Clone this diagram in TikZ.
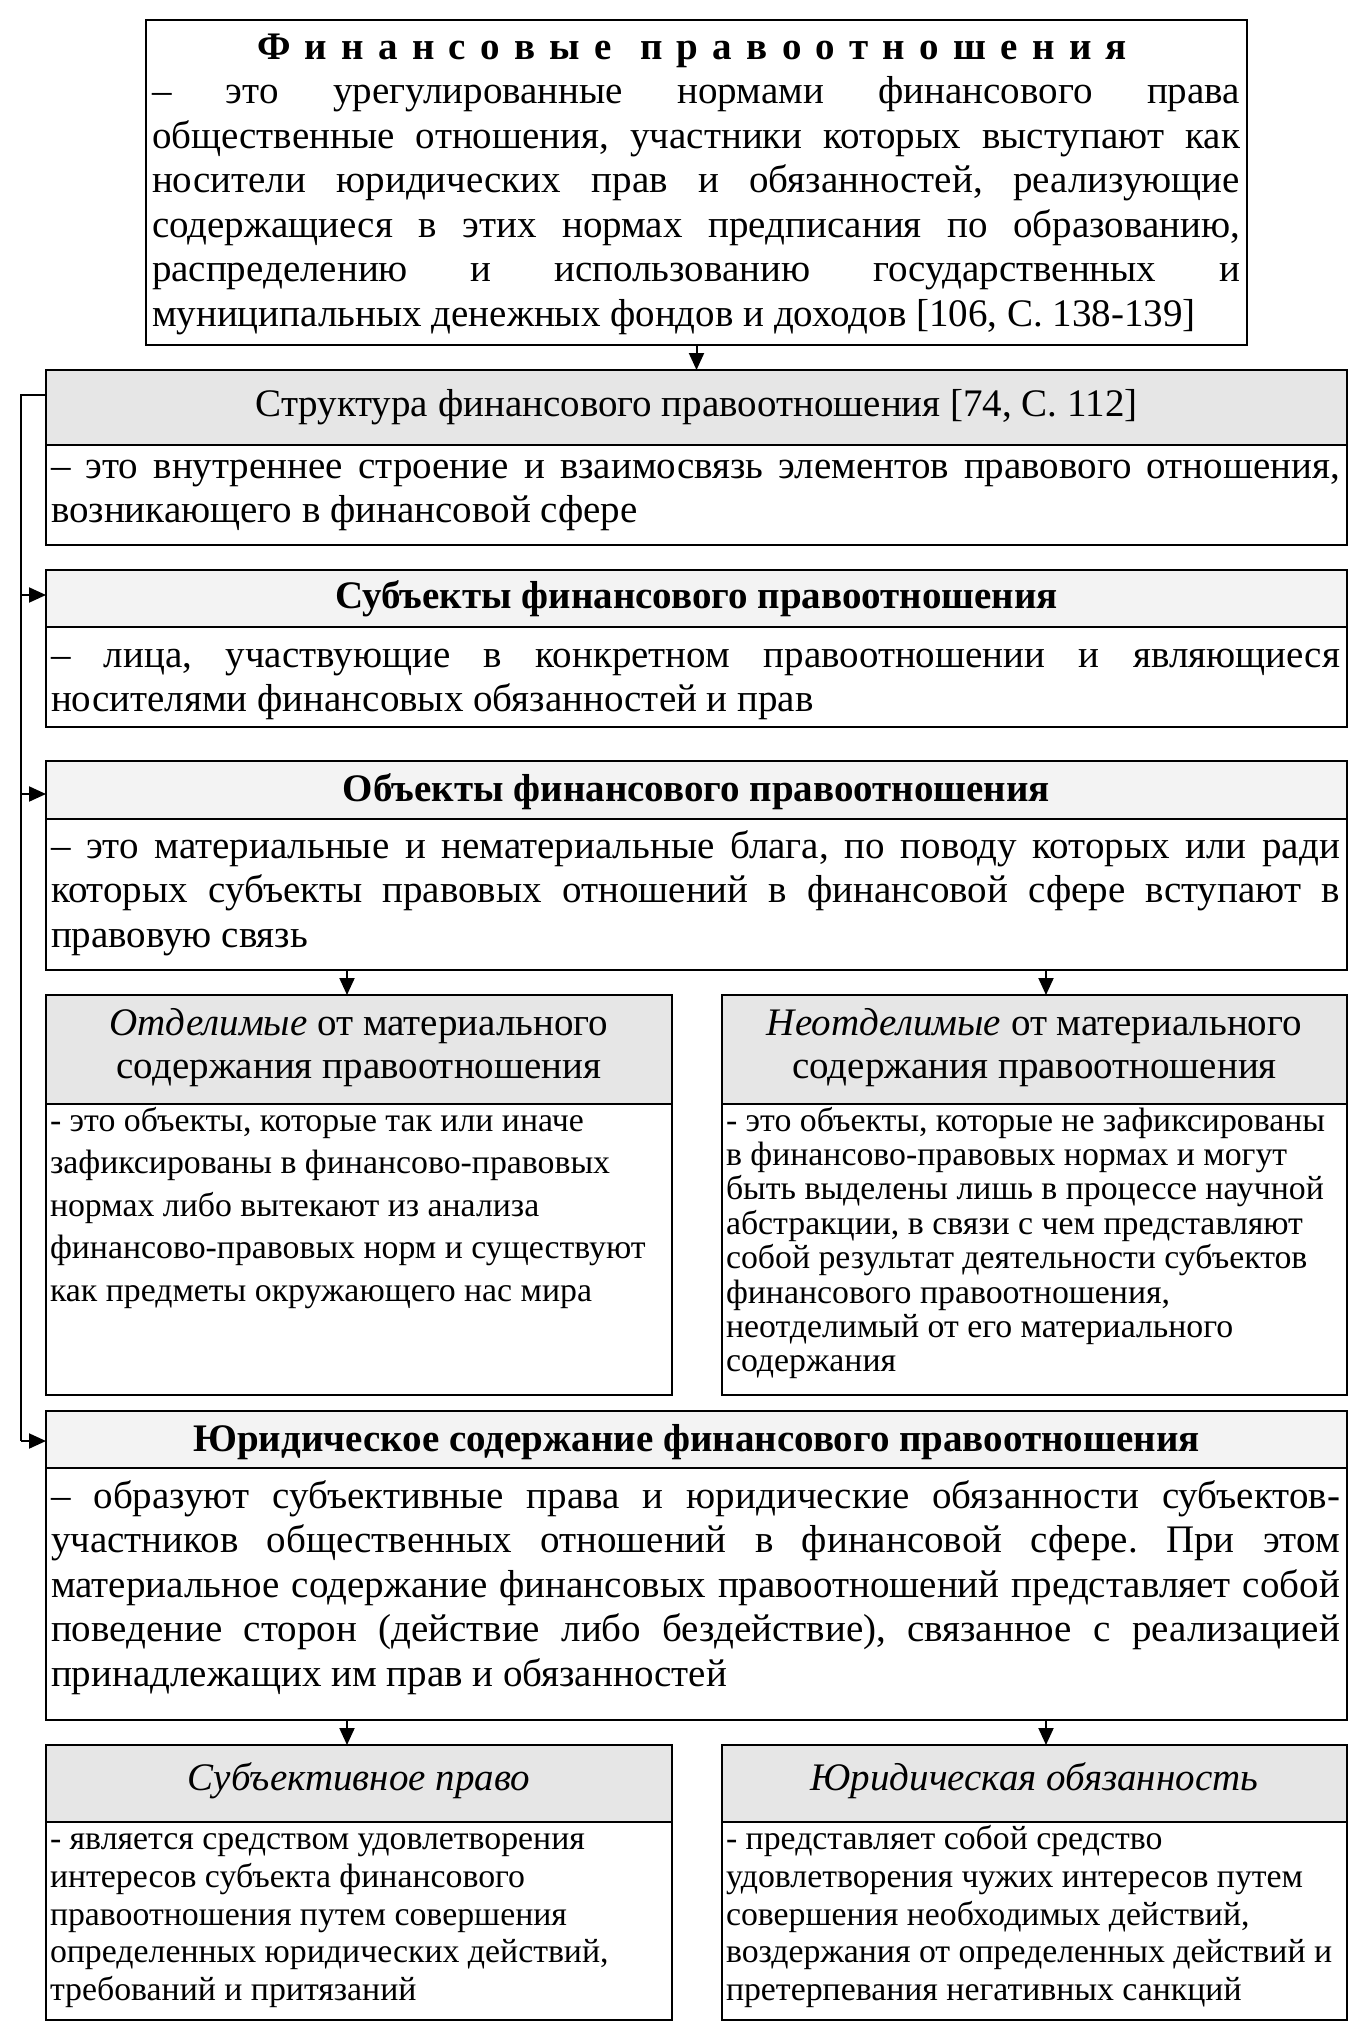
\documentclass[tikz,border=0pt]{standalone}
\usepackage{fontspec}
\setmainfont{Liberation Serif}
\usetikzlibrary{arrows.meta,calc}
\definecolor{hdrA}{RGB}{230,230,230}
\definecolor{hdrB}{RGB}{243,243,243}
\newcommand{\fmain}{\fontsize{39}{44}\selectfont\frenchspacing}
\newcommand{\fsmall}{\fontsize{33.8}{38}\selectfont\frenchspacing}
% justified line: name, x, y, width, text
\newcommand{\Lj}[5]{\node[txt] (#1) at (#2,#3) {\makebox[#4pt][s]{#5}};}
% left line: name, x, y, text
\newcommand{\Ll}[4]{\node[txt] (#1) at (#2,#3) {#4};}
% small left line: name, x, y, text
\newcommand{\Ls}[4]{\node[stxt] (#1) at (#2,#3) {#4};}
% centred line: name, x, y, text
\newcommand{\Lc}[4]{\node[ctxt] (#1) at (#2,#3) {#4};}
\begin{document}
\begin{tikzpicture}[x=1pt,y=-1pt,
  box/.style={draw=black,line width=2.2pt,anchor=north west,outer sep=0pt,inner sep=0pt},
  hdr/.style={box},
  txt/.style={anchor=base west,inner sep=0pt,outer sep=0pt,font=\fmain},
  stxt/.style={anchor=base west,inner sep=0pt,outer sep=0pt,font=\fsmall},
  ctxt/.style={anchor=base,inner sep=0pt,outer sep=0pt,font=\fmain},
  arr/.style={line width=2pt,-{Triangle[length=17pt,width=15pt]}},
  rail/.style={line width=2pt}]
\useasboundingbox[fill=white] (0,0) rectangle (1368,2037);

% ---------- boxes ----------
\node[box,minimum width=1101pt,minimum height=325pt] (top) at (146,20) {};
\node[box,minimum width=1301pt,minimum height=175pt] (struct) at (46,370) {};
\node[hdr,fill=hdrA,minimum width=1301pt,minimum height=75pt] (structH) at (46,370) {};
\node[box,minimum width=1301pt,minimum height=157pt] (subj) at (46,570) {};
\node[hdr,fill=hdrB,minimum width=1301pt,minimum height=57pt] (subjH) at (46,570) {};
\node[box,minimum width=1301pt,minimum height=209pt] (obj) at (46,761) {};
\node[hdr,fill=hdrB,minimum width=1301pt,minimum height=58pt] (objH) at (46,761) {};
\node[box,minimum width=626pt,minimum height=400pt] (otd) at (46,995) {};
\node[hdr,fill=hdrA,minimum width=626pt,minimum height=109pt] (otdH) at (46,995) {};
\node[box,minimum width=625pt,minimum height=400pt] (neo) at (722,995) {};
\node[hdr,fill=hdrA,minimum width=625pt,minimum height=109pt] (neoH) at (722,995) {};
\node[box,minimum width=1301pt,minimum height=309pt] (jur) at (46,1411) {};
\node[hdr,fill=hdrB,minimum width=1301pt,minimum height=57pt] (jurH) at (46,1411) {};
\node[box,minimum width=626pt,minimum height=275pt] (sp) at (46,1745) {};
\node[hdr,fill=hdrA,minimum width=626pt,minimum height=77pt] (spH) at (46,1745) {};
\node[box,minimum width=625pt,minimum height=275pt] (yo) at (722,1745) {};
\node[hdr,fill=hdrA,minimum width=625pt,minimum height=77pt] (yoH) at (722,1745) {};

% ---------- top box ----------
\node[ctxt,font=\fmain\bfseries] (title) at (692,59) {\hbox to 870pt{Ф\hfill и\hfill н\hfill а\hfill н\hfill с\hfill о\hfill в\hfill ы\hfill е\hfill\hfill п\hfill р\hfill а\hfill в\hfill о\hfill о\hfill т\hfill н\hfill о\hfill ш\hfill е\hfill н\hfill и\hfill я}};
\Lj{t1}{152}{103.5}{1088}{– это урегулированные нормами финансового права}
\Lj{t2}{152}{148}{1088}{общественные отношения, участники которых выступают как}
\Lj{t3}{152}{192.5}{1088}{носители юридических прав и обязанностей, реализующие}
\Lj{t4}{152}{237}{1088}{содержащиеся в этих нормах предписания по образованию,}
\Lj{t5}{152}{281.5}{1088}{распределению и использованию государственных и}
\Ll{t6}{152}{326}{муниципальных денежных фондов и доходов [106, С. 138-139]}

% ---------- structure ----------
\Lc{s0}{696.5}{416}{Структура финансового правоотношения [74, С. 112]}
\Lj{s1}{51}{478}{1289}{– это внутреннее строение и взаимосвязь элементов правового отношения,}
\Ll{s2}{51}{522}{возникающего в финансовой сфере}

% ---------- subjects ----------
\Lc{u0}{696.5}{608}{\bfseries Субъекты финансового правоотношения}
\Lj{u1}{51}{667}{1289}{– лица, участвующие в конкретном правоотношении и являющиеся}
\Ll{u2}{51}{711}{носителями финансовых обязанностей и прав}

% ---------- objects ----------
\Lc{o0}{696.5}{801}{\bfseries Объекты финансового правоотношения}
\Lj{o1}{51}{858}{1289}{– это материальные и нематериальные блага, по поводу которых или ради}
\Lj{o2}{51}{902.5}{1289}{которых субъекты правовых отношений в финансовой сфере вступают в}
\Ll{o3}{51}{947}{правовую связь}

% ---------- separable ----------
\Lc{d0}{359}{1035}{\textit{Отделимые} от материального}
\Lc{d1}{359}{1078}{содержания правоотношения}
\Ls{d2}{50}{1131}{- это объекты, которые так или иначе}
\Ls{d3}{50}{1173.5}{зафиксированы в финансово-правовых}
\Ls{d4}{50}{1216}{нормах либо вытекают из анализа}
\Ls{d5}{50}{1258.5}{финансово-правовых норм и существуют}
\Ls{d6}{50}{1301}{как предметы окружающего нас мира}

% ---------- inseparable ----------
\Lc{n0}{1034.5}{1035}{\textit{Неотделимые} от материального}
\Lc{n1}{1034.5}{1078}{содержания правоотношения}
\Ls{n2}{726}{1131}{- это объекты, которые не зафиксированы}
\Ls{n3}{726}{1165.4}{в финансово-правовых нормах и могут}
\Ls{n4}{726}{1199.8}{быть выделены лишь в процессе научной}
\Ls{n5}{726}{1234.2}{абстракции, в связи с чем представляют}
\Ls{n6}{726}{1268.6}{собой результат деятельности субъектов}
\Ls{n7}{726}{1303}{финансового правоотношения,}
\Ls{n8}{726}{1337.4}{неотделимый от его материального}
\Ls{n9}{726}{1371.8}{содержания}

% ---------- juridical content ----------
\Lc{j0}{696.5}{1451}{\bfseries Юридическое содержание финансового правоотношения}
\Lj{j1}{51}{1508}{1289}{– образуют субъективные права и юридические обязанности субъектов-}
\Lj{j2}{51}{1552.5}{1289}{участников общественных отношений в финансовой сфере. При этом}
\Lj{j3}{51}{1597}{1289}{материальное содержание финансовых правоотношений представляет собой}
\Lj{j4}{51}{1641.5}{1289}{поведение сторон (действие либо бездействие), связанное с реализацией}
\Ll{j5}{51}{1686}{принадлежащих им прав и обязанностей}

% ---------- subjective right ----------
\Lc{p0}{359}{1790}{\itshape Субъективное право}
\Ls{p1}{50}{1849}{- является средством удовлетворения}
\Ls{p2}{50}{1887}{интересов субъекта финансового}
\Ls{p3}{50}{1925}{правоотношения путем совершения}
\Ls{p4}{50}{1962.5}{определенных юридических действий,}
\Ls{p5}{50}{2000}{требований и притязаний}

% ---------- legal duty ----------
\Lc{y0}{1034.5}{1790}{\itshape Юридическая обязанность}
\Ls{y1}{726}{1849}{- представляет собой средство}
\Ls{y2}{726}{1887}{удовлетворения чужих интересов путем}
\Ls{y3}{726}{1925}{совершения необходимых действий,}
\Ls{y4}{726}{1962.5}{воздержания от определенных действий и}
\Ls{y5}{726}{2000}{претерпевания негативных санкций}

% ---------- connectors ----------
\coordinate (railx) at (21,0);
\coordinate (ax1) at (347,0);
\coordinate (ax2) at (1046,0);
\coordinate (sOut) at ($(struct.north west)+(0,25)$);
\coordinate (uIn) at ($(subj.north west)+(0,25)$);
\coordinate (oIn) at ($(obj.north west)+(0,33)$);
\coordinate (jIn) at ($(jur.north west)+(0,30)$);

\draw[arr] (top.south) -- (struct.north);
\draw[rail] (sOut) -- (sOut -| railx) -- (jIn -| railx);
\draw[arr] (uIn -| railx) -- (uIn);
\draw[arr] (oIn -| railx) -- (oIn);
\draw[arr] (jIn -| railx) -- (jIn);
\draw[arr] (obj.south -| ax1) -- (otd.north -| ax1);
\draw[arr] (obj.south -| ax2) -- (neo.north -| ax2);
\draw[arr] (jur.south -| ax1) -- (sp.north -| ax1);
\draw[arr] (jur.south -| ax2) -- (yo.north -| ax2);
\end{tikzpicture}
\end{document}
